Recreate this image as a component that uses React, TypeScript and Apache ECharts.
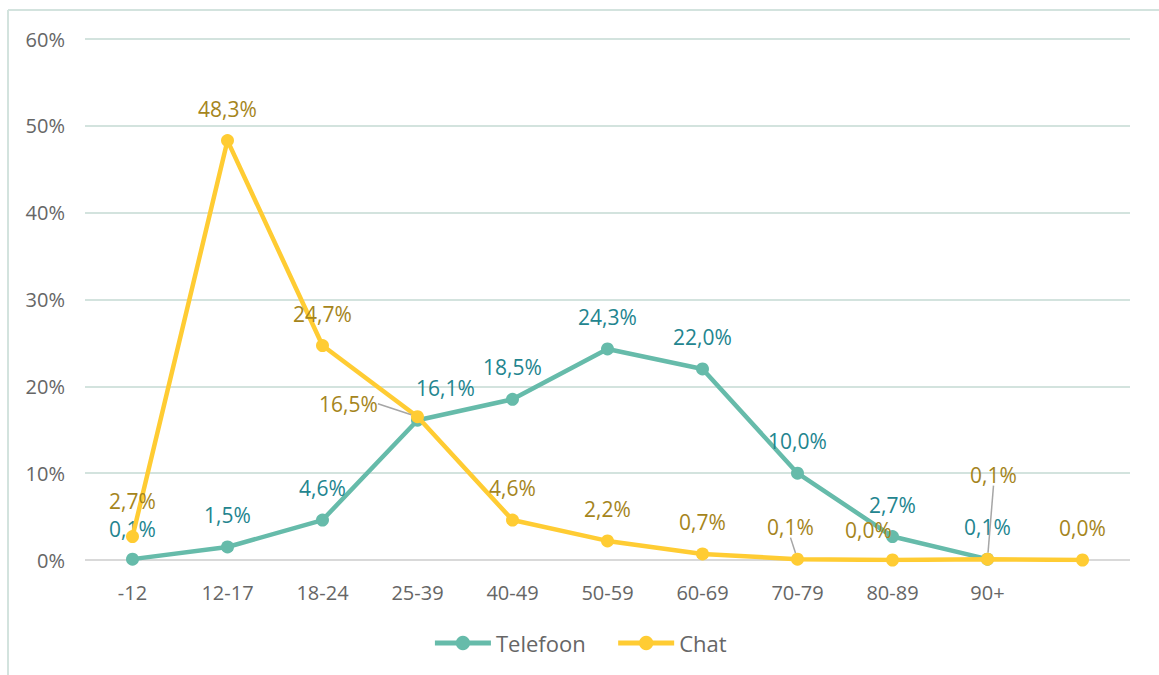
import React, { useEffect, useRef } from "react";
import * as echarts from "echarts";

const categories = ["-12", "12-17", "18-24", "25-39", "40-49", "50-59", "60-69", "70-79", "80-89", "90+", ""];
const telefoon = [0.1, 1.5, 4.6, 16.1, 18.5, 24.3, 22.0, 10.0, 2.7, 0.1];
const chat = [2.7, 48.3, 24.7, 16.5, 4.6, 2.2, 0.7, 0.1, 0.0, 0.1, 0.0];
const yTicks = [0, 10, 20, 30, 40, 50, 60];

const FONT = "Open Sans";
const fmt = (v: number) => v.toFixed(1).replace(".", ",") + "%";

export default function App() {
  const ref = useRef<HTMLDivElement>(null);
  useEffect(() => {
    if (!ref.current) return;
    const chart = echarts.init(ref.current, undefined, { renderer: "svg" });
    const telLayout: Record<number, { dx: number; dy: number }> = {
      0: { dx: 0, dy: 2 },
      3: { dx: 28, dy: 0 },
    };
    const chatLayout: Record<number, { dx: number; dy: number }> = {
      0: { dx: 0, dy: -4 },
      3: { dx: -69, dy: 19 },
      7: { dx: -7, dy: 0 },
      8: { dx: -24, dy: 2 },
      9: { dx: 6, dy: -52 },
    };
    const chatLines = [3, 7, 9];
    chart.setOption({
      animation: false,
      textStyle: { fontFamily: FONT },
      graphic: [
        { type: "line", shape: { x1: 8, y1: 10, x2: 1159, y2: 10 }, style: { stroke: "#d3e3de", lineWidth: 2 } },
        { type: "line", shape: { x1: 8, y1: 10, x2: 8, y2: 675 }, style: { stroke: "#d3e3de", lineWidth: 2 } },
      ],
      grid: { left: 85, right: 29, top: 39, bottom: 115 },
      legend: {
        bottom: 16,
        left: "center",
        itemWidth: 56,
        itemHeight: 18,
        itemGap: 30,
        lineStyle: { width: 5 },
        textStyle: { fontFamily: FONT, fontSize: 22, color: "#666" },
        data: ["Telefoon", "Chat"],
      },
      xAxis: {
        type: "category",
        data: categories,
        boundaryGap: true,
        axisLine: { show: false },
        axisTick: { show: false },
        axisLabel: { color: "#666", fontSize: 20, fontFamily: FONT, margin: 22 },
      },
      yAxis: {
        type: "value",
        min: yTicks[0],
        max: yTicks[yTicks.length - 1],
        interval: 10,
        axisLabel: {
          color: "#666",
          fontSize: 20,
          fontFamily: FONT,
          margin: 20,
          formatter: (v: number) => v + "%",
        },
        axisLine: { show: false },
        axisTick: { show: false },
        splitLine: {
          lineStyle: {
            width: 2,
            color: yTicks.map((t) => (t === 0 ? "#d9d9d9" : "#d3e3de")),
          },
        },
      },
      series: [
        {
          name: "Telefoon",
          type: "line",
          data: telefoon,
          symbol: "circle",
          symbolSize: 13,
          lineStyle: { width: 4.5, color: "#66bbaa" },
          itemStyle: { color: "#66bbaa" },
          label: {
            show: true,
            position: "top",
            distance: 15,
            fontSize: 21,
            fontFamily: FONT,
            color: "#23858f",
            formatter: (p: any) => fmt(p.value),
          },
          labelLayout: (p: any) => telLayout[p.dataIndex] || {},
          z: 2,
        },
        {
          name: "Chat",
          type: "line",
          data: chat.map((v, i) =>
            chatLines.includes(i)
              ? { value: v, labelLine: { show: true, lineStyle: { color: "#a6a6a6", width: 1.5 } } }
              : v
          ),
          symbol: "circle",
          symbolSize: 13,
          lineStyle: { width: 4.5, color: "#ffcc33" },
          itemStyle: { color: "#ffcc33" },
          label: {
            show: true,
            position: "top",
            distance: 15,
            fontSize: 21,
            fontFamily: FONT,
            color: "#a5851c",
            formatter: (p: any) => fmt(typeof p.value === "number" ? p.value : p.data.value),
          },
          labelLine: { show: false },
          labelLayout: (p: any) => chatLayout[p.dataIndex] || {},
          z: 3,
        },
      ],
    });
    return () => chart.dispose();
  }, []);
  return <div ref={ref} style={{ width: 1159, height: 675, position: "absolute", left: 0, top: 0 }} />;
}
